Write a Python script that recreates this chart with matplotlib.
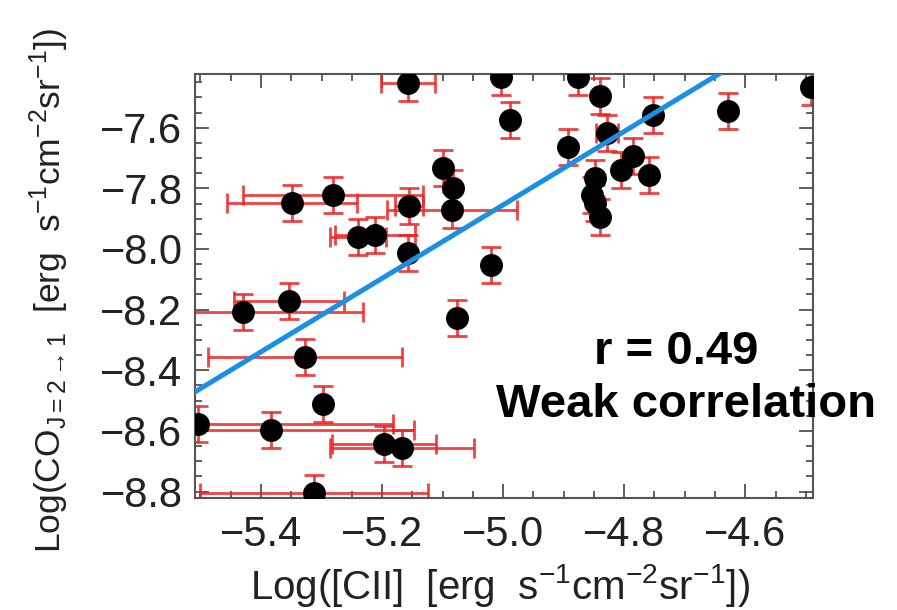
import matplotlib
matplotlib.use("Agg")
import matplotlib.pyplot as plt
from matplotlib.ticker import MultipleLocator
import numpy as np

plt.rcParams['font.family'] = ['Liberation Sans', 'DejaVu Sans']
plt.rcParams['mathtext.fontset'] = 'custom'
plt.rcParams['mathtext.rm'] = 'Liberation Sans'
plt.rcParams['mathtext.it'] = 'Liberation Sans'

# log [CII], log CO(2-1) and their errors
cii = [-5.157, -5.003, -4.988, -5.099, -5.083, -5.084, -5.349, -5.281, -5.155,
       -5.240, -5.212, -5.157, -5.020, -4.876, -4.840, -4.752, -4.628, -4.492,
       -4.893, -4.828, -4.785, -4.805, -4.759, -4.848, -4.853, -4.848, -4.840,
       -5.430, -5.354, -5.327, -5.298, -5.504, -5.383, -5.197, -5.167, -5.312,
       -5.076]
co = [-7.453, -7.433, -7.575, -7.733, -7.799, -7.871, -7.848, -7.822, -7.858,
      -7.960, -7.954, -8.013, -8.052, -7.433, -7.496, -7.558, -7.545, -7.466,
      -7.664, -7.617, -7.693, -7.739, -7.756, -7.766, -7.822, -7.848, -7.894,
      -8.207, -8.171, -8.356, -8.510, -8.576, -8.596, -8.642, -8.655, -8.804,
      -8.227]
cii_err = [0.045, 0.0, 0.0, 0.0, 0.0, 0.107, 0.107, 0.149, 0.023,
           0.046, 0.066, 0.0, 0.0, 0.0, 0.0, 0.0, 0.0, 0.0,
           0.0, 0.018, 0.0, 0.0, 0.0, 0.0, 0.0, 0.0, 0.0,
           0.198, 0.091, 0.160, 0.0, 0.322, 0.235, 0.086, 0.119, 0.188,
           0.0]
co_err = 0.059

# fitted line
fit_x = [-5.509, -4.488]
fit_slope = 1.211
fit_y0 = -8.471

fig = plt.figure(figsize=(8.97, 6.10), dpi=100)
ax = fig.add_axes([0.2174, 0.1836, 0.689, 0.6951])

ax.errorbar(cii, co, xerr=cii_err, yerr=co_err, fmt='none', ecolor='#ee2222',
            elinewidth=2.0, capsize=7, capthick=2.0, alpha=0.85, zorder=2)
ax.plot(cii, co, 'o', color='black', ms=15.5, zorder=3)

fx = np.array(fit_x)
ax.plot(fx, fit_y0 + fit_slope * (fx - fit_x[0]), color='#1a8fe3', lw=3.6, zorder=4)

ax.set_xlim(-5.509, -4.488)
ax.set_ylim(-8.821, -7.423)
ax.xaxis.set_major_locator(MultipleLocator(0.2))
ax.xaxis.set_minor_locator(MultipleLocator(0.05))
ax.yaxis.set_major_locator(MultipleLocator(0.2))
ax.yaxis.set_minor_locator(MultipleLocator(0.05))
ax.tick_params(which='both', direction='in', top=True, right=True, color='#444444',
               width=1.2, labelsize=30, labelcolor='#222222')
ax.tick_params(axis='x', pad=12)
ax.tick_params(axis='y', pad=9)
ax.tick_params(which='major', length=10)
ax.tick_params(which='minor', length=5)
for s in ax.spines.values():
    s.set_color('#555555')
    s.set_linewidth(1.5)

ax.set_xlabel(r'Log([CII]  [erg  s$^{-1}$cm$^{-2}$sr$^{-1}$])', fontsize=29, color='#222222')
ax.set_ylabel(r'Log(CO$_{\rm J=2\rightarrow1}$  [erg  s$^{-1}$cm$^{-2}$sr$^{-1}$])', fontsize=25.5,
              color='#222222')
ax.xaxis.set_label_coords(0.494, -0.15)
ax.yaxis.set_label_coords(-0.2, 0.49)

ax.text(0.778, 0.344, 'r = 0.49', transform=ax.transAxes, ha='center', va='center',
        fontsize=34, fontweight='bold', color='black')
ax.text(0.795, 0.219, 'Weak correlation', transform=ax.transAxes, ha='center', va='center',
        fontsize=34, fontweight='bold', color='black', clip_on=False)

fig.savefig('out.png', dpi=100)
